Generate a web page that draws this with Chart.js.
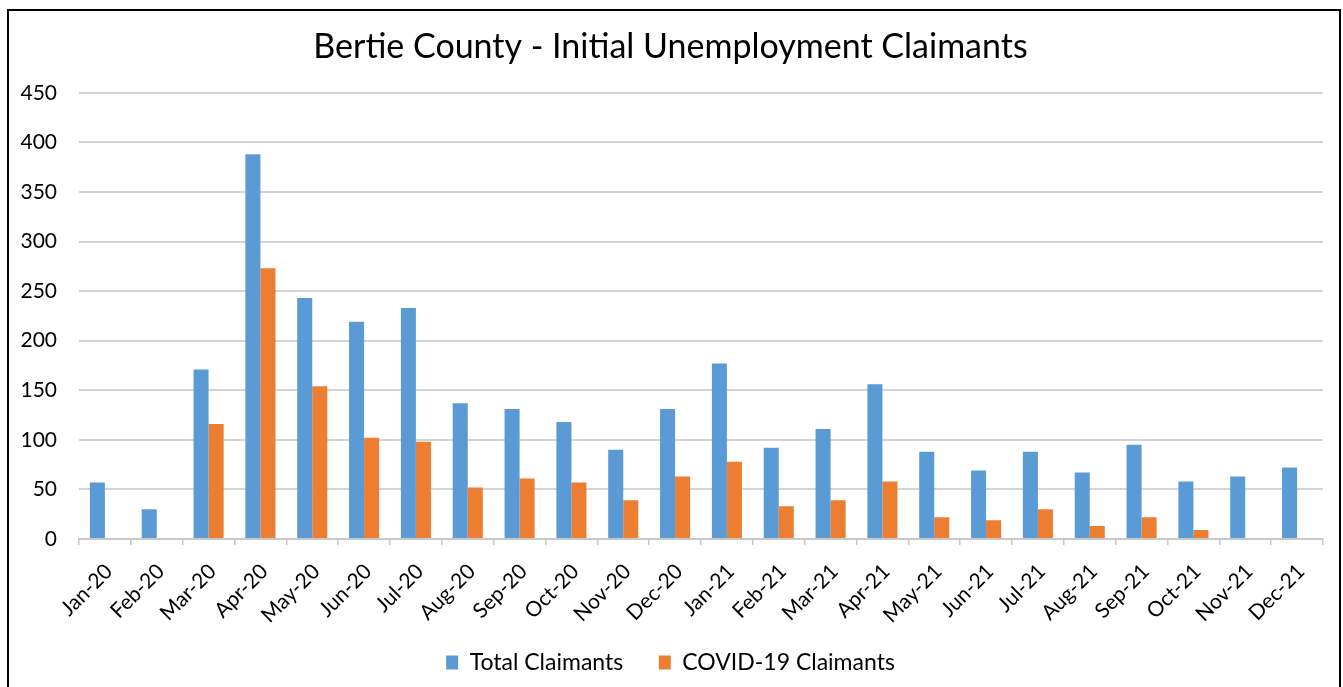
<!DOCTYPE html>
<html>
<head>
<meta charset="utf-8">
<script src="https://cdn.jsdelivr.net/npm/chart.js@4"></script>
<style>
  html, body { margin: 0; padding: 0; background: #fff; }
  body { width: 1343px; height: 687px; position: relative; overflow: hidden; }
  #frame { position: absolute; left: 7px; top: 9px; width: 1334px; height: 700px; border: 2px solid #000; box-sizing: border-box; }
  #wrap { position: absolute; left: 0; top: 0; width: 1343px; height: 687px; }
</style>
</head>
<body>
<div id="frame"></div>
<div id="wrap"><canvas id="c" width="1343" height="687"></canvas></div>
<script>
const categories = ["Jan-20","Feb-20","Mar-20","Apr-20","May-20","Jun-20","Jul-20","Aug-20","Sep-20","Oct-20","Nov-20","Dec-20",
                    "Jan-21","Feb-21","Mar-21","Apr-21","May-21","Jun-21","Jul-21","Aug-21","Sep-21","Oct-21","Nov-21","Dec-21"];
const totalClaimants = [57,30,171,388,243,219,233,137,131,118,90,131,177,92,111,156,88,69,88,67,95,58,63,72];
const covidClaimants = [null,null,116,273,154,102,98,52,61,57,39,63,78,33,39,58,22,19,30,13,22,9,null,null];
const yTicks = [0,50,100,150,200,250,300,350,400,450];

const FONT = "Lato, 'Open Sans', sans-serif";

new Chart(document.getElementById('c'), {
  type: 'bar',
  data: {
    labels: categories,
    datasets: [
      { label: 'Total Claimants', data: totalClaimants, backgroundColor: '#5B9BD5', borderWidth: 0 },
      { label: 'COVID-19 Claimants', data: covidClaimants, backgroundColor: '#ED7D31', borderWidth: 0 }
    ]
  },
  options: {
    responsive: false,
    animation: false,
    layout: { padding: { left: 18, right: 20, top: 0, bottom: 3 } },
    datasets: { bar: { barPercentage: 1.0, categoryPercentage: 0.58 } },
    plugins: {
      title: {
        display: true,
        text: 'Bertie County - Initial Unemployment Claimants',
        color: '#000',
        font: { family: FONT, size: 34, weight: 'normal' },
        padding: { top: 27, bottom: 25 }
      },
      legend: {
        position: 'bottom',
        labels: {
          color: '#000',
          font: { family: FONT, size: 23 },
          boxWidth: 12, boxHeight: 14,
          padding: 12,
          generateLabels: (chart) => {
            const items = Chart.defaults.plugins.legend.labels.generateLabels(chart);
            items.forEach((it, i) => { if (i === 0) it.text = it.text + '    '; it.lineWidth = 0; });
            return items;
          }
        }
      },
      tooltip: { enabled: false }
    },
    scales: {
      x: {
        grid: { display: true, drawOnChartArea: false, drawTicks: true, tickLength: 6, color: '#c8c8c8', lineWidth: 1.5 },
        border: { display: true, color: '#c8c8c8', width: 2 },
        ticks: { color: '#000', font: { family: FONT, size: 21 }, minRotation: 45, maxRotation: 45, autoSkip: false, padding: 14, labelOffset: 4 },
        afterFit: (s) => { s.height = 100; }
      },
      y: {
        min: 0, max: 450,
        afterBuildTicks: (s) => { s.ticks = yTicks.map(v => ({ value: v })); },
        grid: { color: '#d4d4d4', lineWidth: 2, drawTicks: false },
        border: { display: false },
        ticks: { color: '#000', font: { family: FONT, size: 21 }, padding: 22 },
        afterFit: (s) => { s.width = 61; }
      }
    }
  }
});
</script>
</body>
</html>
